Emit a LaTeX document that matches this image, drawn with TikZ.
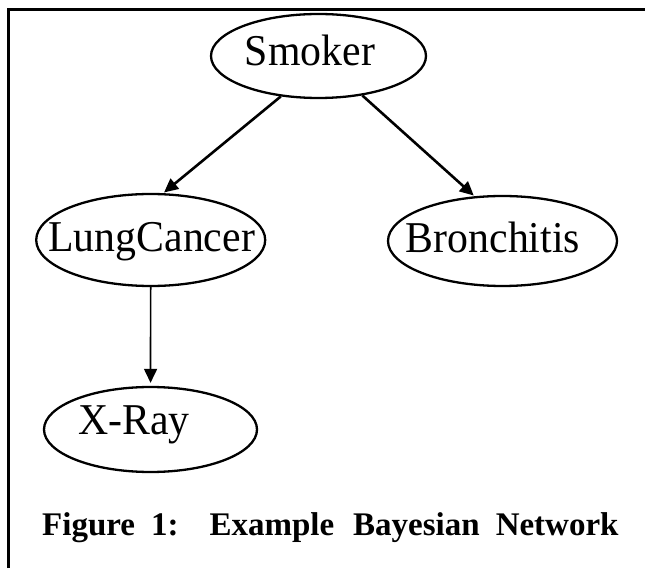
\documentclass[tikz,border=0pt]{standalone}
\usepackage{fontspec}
\setmainfont{Liberation Serif}
\newfontfamily\bnfamily[FakeStretch=0.95]{Liberation Serif}
\usetikzlibrary{arrows.meta,positioning,shapes.geometric}

\newcommand{\bnfont}{\bnfamily\fontsize{44}{50}\selectfont}
\newcommand{\capfont}{\fontsize{33}{38}\selectfont\bfseries}

\begin{document}
\begin{tikzpicture}[x=1pt, y=1pt,
    var/.style={ellipse, draw, line width=2.3pt, inner sep=0pt},
    vartxt/.style={font=\bnfont, inner sep=0pt},
    edge/.style={-{Triangle[length=14pt, width=13pt]}, line width=2.6pt, shorten >=1pt}]
  \useasboundingbox (0,0) rectangle (645,568);
  \draw[line width=3pt] (8.5,0) -- (8.5,558.5) -- (645,558.5);
  % variables
  \node[var, minimum width=215pt, minimum height=84pt,
        label={[vartxt, xshift=-8.5pt, yshift=6pt]center:Smoker}] (smoker) at (318.5,512) {};
  \node[var, minimum width=229pt, minimum height=92pt,
        label={[vartxt, xshift=1pt, yshift=-1.8pt]center:LungCancer}] (lung) at (150.7,328) {};
  \node[var, minimum width=229pt, minimum height=90pt,
        label={[vartxt, xshift=-9.5pt, yshift=4pt]center:Bronchitis}] (bron) at (502.5,327) {};
  \node[var, minimum width=213pt, minimum height=85pt,
        label={[vartxt, xshift=-16.5pt, yshift=4.2pt]center:X-Ray}] (xray) at (150.5,138.5) {};
  % dependencies
  \draw[edge] (smoker.227) -- (lung.75);
  \draw[edge] (smoker.318) -- (bron.122);
  \draw[edge, line width=1.7pt, shorten >=3pt] (lung) -- (xray);
  \node[font=\capfont, anchor=base west, inner sep=0pt] (caption) at (42,33)
    {Figure\hspace{16pt}1:\hspace{31pt}Example\hspace{19pt}Bayesian\hspace{16pt}Network};
\end{tikzpicture}
\end{document}
